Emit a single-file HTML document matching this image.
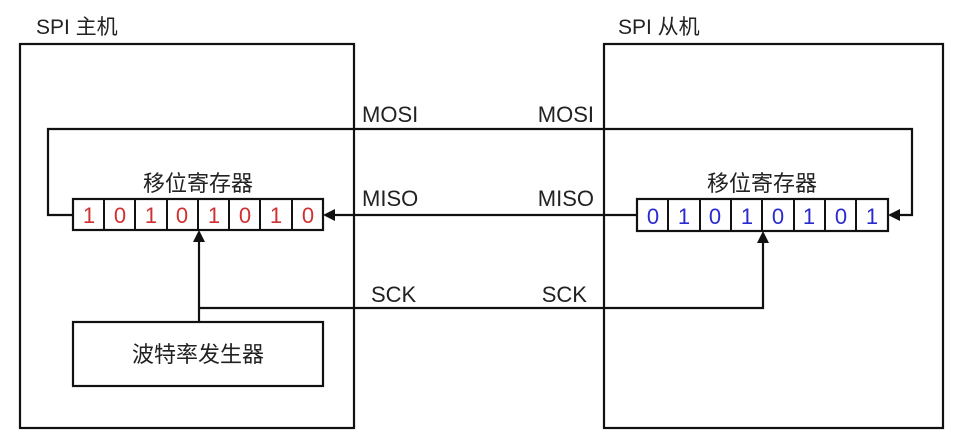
<!DOCTYPE html>
<html><head><meta charset="utf-8"><style>
html,body{margin:0;padding:0;background:#fff;}
svg{display:block;}
text{font-family:"Liberation Sans","Noto Sans CJK SC",sans-serif;}
</style></head><body>
<svg width="956" height="446" viewBox="0 0 956 446" xmlns="http://www.w3.org/2000/svg">
<rect width="956" height="446" fill="#fff"/>
<g fill="none" stroke="#111" stroke-width="2.2">
<rect x="20" y="44" width="334" height="384"/>
<rect x="604" y="44" width="339" height="384"/>
<rect x="73" y="322" width="250" height="64"/>
<polyline points="73,215 48,215 48,129 912,129 912,215 896,215"/>
<line x1="637" y1="215" x2="333" y2="215"/>
<polyline points="199,322 199,240"/>
<polyline points="199,308 763,308 763,241"/>
</g>
<g fill="#111">
<polygon points="323,215 335,209 335,221"/>
<polygon points="888,215 900,209 900,221"/>
<polygon points="199,230 193,242 205,242"/>
<polygon points="763,231 757,243 769,243"/>
</g>
<g stroke="#111" stroke-width="2.2" fill="#fff">
<rect x="73" y="199" width="250" height="31"/>
<rect x="637" y="199" width="251" height="32"/>
</g>
<g stroke="#111" stroke-width="2">
<line x1="104" y1="199" x2="104" y2="230"/><line x1="135" y1="199" x2="135" y2="230"/><line x1="167" y1="199" x2="167" y2="230"/><line x1="198" y1="199" x2="198" y2="230"/><line x1="229" y1="199" x2="229" y2="230"/><line x1="260" y1="199" x2="260" y2="230"/><line x1="292" y1="199" x2="292" y2="230"/>
<line x1="668" y1="199" x2="668" y2="231"/><line x1="700" y1="199" x2="700" y2="231"/><line x1="731" y1="199" x2="731" y2="231"/><line x1="762" y1="199" x2="762" y2="231"/><line x1="794" y1="199" x2="794" y2="231"/><line x1="825" y1="199" x2="825" y2="231"/><line x1="856" y1="199" x2="856" y2="231"/>
</g>
<g font-size="22" fill="#d03030" text-anchor="middle">
<text x="89" y="223">1</text><text x="120" y="223">0</text><text x="151" y="223">1</text><text x="182" y="223">0</text><text x="214" y="223">1</text><text x="245" y="223">0</text><text x="276" y="223">1</text><text x="308" y="223">0</text>
</g>
<g font-size="22" fill="#2a2ad0" text-anchor="middle">
<text x="653" y="224">0</text><text x="684" y="224">1</text><text x="715" y="224">0</text><text x="747" y="224">1</text><text x="778" y="224">0</text><text x="809" y="224">1</text><text x="841" y="224">0</text><text x="872" y="224">1</text>
</g>
<g font-size="21" fill="#222">
<text x="36" y="34">SPI 主机</text>
<text x="618" y="34">SPI 从机</text>
</g>
<g font-size="22" fill="#222">
<text x="198" y="191" text-anchor="middle">移位寄存器</text>
<text x="762" y="191" text-anchor="middle">移位寄存器</text>
<text x="198" y="362" text-anchor="middle">波特率发生器</text>
<text x="362" y="122">MOSI</text>
<text x="594" y="122" text-anchor="end">MOSI</text>
<text x="362" y="206">MISO</text>
<text x="594" y="206" text-anchor="end">MISO</text>
<text x="371" y="302">SCK</text>
<text x="587" y="302" text-anchor="end">SCK</text>
</g>
</svg>
</body></html>
